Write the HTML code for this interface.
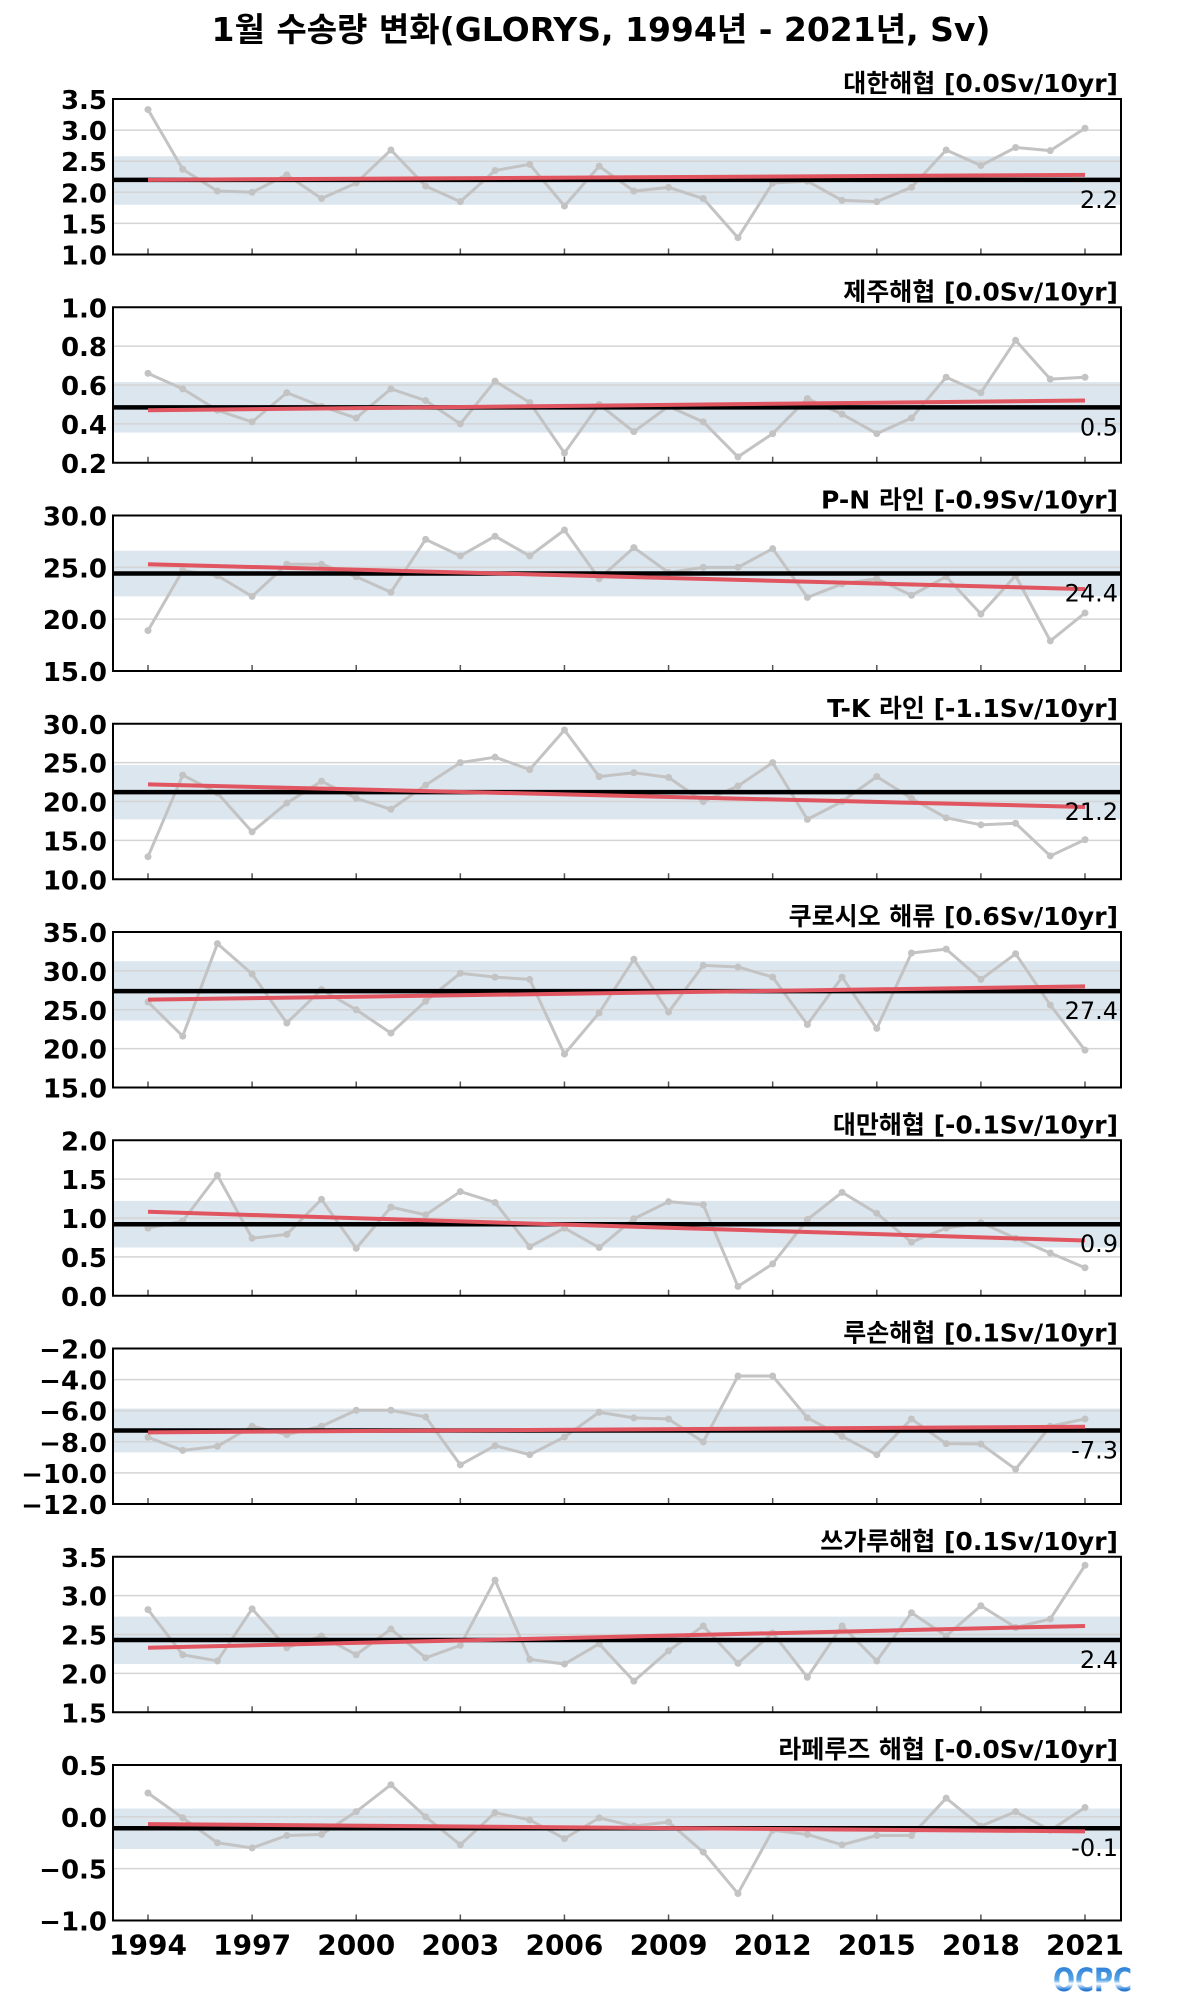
<!DOCTYPE html>
<html><head><meta charset="utf-8">
<style>
html,body{margin:0;padding:0;background:#fff;}
svg{display:block;}
text{font-family:"DejaVu Sans","Noto Sans CJK KR",sans-serif;}
</style></head>
<body>
<svg id="fig" width="1200" height="2000" viewBox="0 0 1200 2000" xmlns="http://www.w3.org/2000/svg">
<text x="601" y="41" text-anchor="middle" font-size="33" font-weight="bold">1월 수송량 변화(GLORYS, 1994년 - 2021년, Sv)</text>
<defs><linearGradient id="lg" x1="0" y1="0" x2="0" y2="1"><stop offset="0" stop-color="#1a6fd0"/><stop offset="0.5" stop-color="#5aa8e8"/><stop offset="0.6" stop-color="#ffffff"/><stop offset="0.75" stop-color="#2a7fd8"/><stop offset="1" stop-color="#0a3c9a"/></linearGradient></defs>
<text x="1053" y="1991" font-size="32" font-weight="bold" fill="url(#lg)" textLength="79" lengthAdjust="spacingAndGlyphs">OCPC</text>
</svg>
<script>
const years = [1994,1995,1996,1997,1998,1999,2000,2001,2002,2003,2004,2005,2006,2007,2008,2009,2010,2011,2012,2013,2014,2015,2016,2017,2018,2019,2020,2021];
const xTickYears = [1994,1997,2000,2003,2006,2009,2012,2015,2018,2021];
const panelTitles = ["대한해협 [0.0Sv/10yr]","제주해협 [0.0Sv/10yr]","P-N 라인 [-0.9Sv/10yr]","T-K 라인 [-1.1Sv/10yr]","쿠로시오 해류 [0.6Sv/10yr]","대만해협 [-0.1Sv/10yr]","루손해협 [0.1Sv/10yr]","쓰가루해협 [0.1Sv/10yr]","라페루즈 해협 [-0.0Sv/10yr]"];
const s1 = [3.33,2.37,2.02,2.0,2.28,1.9,2.15,2.68,2.1,1.85,2.35,2.45,1.78,2.42,2.02,2.08,1.9,1.27,2.15,2.18,1.87,1.85,2.08,2.68,2.43,2.72,2.67,3.03];
const s2 = [0.66,0.58,0.47,0.41,0.56,0.49,0.43,0.58,0.52,0.40,0.62,0.51,0.25,0.50,0.36,0.49,0.41,0.23,0.35,0.53,0.45,0.35,0.43,0.64,0.56,0.83,0.63,0.64];
const s3 = [18.9,24.7,24.2,22.2,25.3,25.3,24.1,22.6,27.7,26.1,28.0,26.1,28.6,23.9,26.9,24.5,25.0,25.0,26.8,22.1,23.4,23.9,22.3,24.1,20.5,24.2,17.9,20.6];
const s4 = [12.9,23.4,21.1,16.1,19.8,22.6,20.4,19.0,22.1,25.0,25.7,24.1,29.2,23.2,23.7,23.1,20.0,22.0,25.0,17.7,20.0,23.2,20.4,17.9,17.0,17.2,13.0,15.1];
const s5 = [26.0,21.6,33.5,29.6,23.3,27.6,25.0,22.0,26.1,29.7,29.2,28.9,19.3,24.6,31.5,24.7,30.7,30.5,29.2,23.1,29.2,22.6,32.3,32.8,28.9,32.2,25.6,19.8];
const s6 = [0.87,0.96,1.55,0.74,0.79,1.24,0.61,1.14,1.04,1.34,1.20,0.63,0.87,0.62,0.99,1.21,1.17,0.12,0.41,0.98,1.33,1.06,0.69,0.87,0.94,0.74,0.55,0.36];
const s7 = [-7.71,-8.55,-8.29,-7.0,-7.54,-7.0,-5.97,-5.97,-6.4,-9.48,-8.25,-8.83,-7.69,-6.1,-6.46,-6.53,-8.01,-3.77,-3.77,-6.46,-7.65,-8.83,-6.53,-8.12,-8.14,-9.76,-7.0,-6.53];
const s8 = [2.82,2.24,2.16,2.83,2.33,2.48,2.24,2.57,2.2,2.36,3.2,2.18,2.12,2.38,1.90,2.29,2.61,2.13,2.52,1.95,2.61,2.16,2.78,2.48,2.87,2.59,2.70,3.39];
const s9 = [0.23,-0.01,-0.25,-0.30,-0.18,-0.17,0.05,0.31,0.0,-0.27,0.04,-0.03,-0.21,-0.01,-0.09,-0.05,-0.34,-0.74,-0.13,-0.17,-0.27,-0.18,-0.18,0.18,-0.09,0.05,-0.13,0.09];
const seriesList = [s1,s2,s3,s4,s5,s6,s7,s8,s9];
const means = [2.2,0.485,24.4,21.2,27.4,0.92,-7.27,2.43,-0.11];
const meanLabels = ["2.2","0.5","24.4","21.2","27.4","0.9","-7.3","2.4","-0.1"];
const bandLow = [1.8,0.355,22.2,17.7,23.6,0.62,-8.68,2.12,-0.31];
const bandHigh = [2.58,0.615,26.6,24.7,31.25,1.22,-5.86,2.73,0.08];
const trendStart = [2.2,0.47,25.3,22.2,26.3,1.08,-7.39,2.33,-0.07];
const trendEnd = [2.28,0.52,22.9,19.3,28.0,0.71,-7.03,2.61,-0.14];
const yMins = [1.0,0.2,15,10,15,0,-12,1.5,-1.0];
const yMaxs = [3.5,1.0,30,30,35,2.0,-2,3.5,0.5];
const yTicks = [[1.0,1.5,2.0,2.5,3.0,3.5],[0.2,0.4,0.6,0.8,1.0],[15,20,25,30],[10,15,20,25,30],[15,20,25,30,35],[0,0.5,1.0,1.5,2.0],[-12,-10,-8,-6,-4,-2],[1.5,2.0,2.5,3.0,3.5],[-1.0,-0.5,0,0.5]];

const NS="http://www.w3.org/2000/svg";
const svg=document.getElementById('fig');
const L=113,R=1121,H=155.5,TOP0=99,STEP=208.25;
const X0=148,X1=1085;
function xScale(yr){return X0+(yr-years[0])*(X1-X0)/(years[years.length-1]-years[0]);}
function mk(tag,attrs,parent){const e=document.createElementNS(NS,tag);for(const k in attrs)e.setAttribute(k,attrs[k]);(parent||svg).appendChild(e);return e;}
function fmt(v){const s=Math.abs(v).toFixed(1);return (v<0?"\u2212":"")+s;}

seriesList.forEach((ser,p)=>{
  const top=TOP0+p*STEP, bot=top+H;
  const ymin=yMins[p], ymax=yMaxs[p];
  const yScale=v=>bot-(v-ymin)/(ymax-ymin)*H;
  const g=mk('g',{});
  
  
  const band=mk('rect',{x:L,y:yScale(bandHigh[p]),width:R-L,height:yScale(bandLow[p])-yScale(bandHigh[p]),fill:'#dce6ef'},g);
  
  
  yTicks[p].forEach(t=>{
    const y=yScale(t);
    const gl=mk('line',{x1:L,x2:R,y1:y,y2:y,stroke:'#d4d4d4','stroke-width':1.5},g);
    
    
    const tl=mk('text',{x:107,y:y+10,'text-anchor':'end','font-size':26,'font-weight':'bold'},g);
    tl.textContent=fmt(t);
    
    
  });
  xTickYears.forEach(yr=>{
    const x=xScale(yr);
    const tk=mk('line',{x1:x,x2:x,y1:bot,y2:bot-6,stroke:'#555','stroke-width':1.5},g);
    
    
  });
  const pts=ser.map((v,i)=>xScale(years[i])+','+yScale(v)).join(' ');
  const ln=mk('polyline',{points:pts,fill:'none',stroke:'#c3c3c3','stroke-width':3,'stroke-linejoin':'round'},g);
  
  
  ser.forEach((v,i)=>{
    const c=mk('circle',{cx:xScale(years[i]),cy:yScale(v),r:3.5,fill:'#c3c3c3'},g);
    
    
  });
  const ml=mk('line',{x1:L,x2:R,y1:yScale(means[p]),y2:yScale(means[p]),stroke:'#000','stroke-width':4.5},g);
  
  
  const tr=mk('line',{x1:xScale(years[0]),x2:xScale(years[years.length-1]),y1:yScale(trendStart[p]),y2:yScale(trendEnd[p]),stroke:'#e05560','stroke-width':4},g);
  
  
  const fr=mk('rect',{x:L,y:top,width:R-L,height:H,fill:'none',stroke:'#000','stroke-width':2},g);
  
  
  const ttl=mk('text',{x:R-3,y:top-7,'text-anchor':'end','font-size':25,'font-weight':'bold'},g);
  ttl.textContent=panelTitles[p];
  
  
  const mv=mk('text',{x:R-3,y:yScale(means[p])+28,'text-anchor':'end','font-size':24},g);
  mv.textContent=meanLabels[p];
  
  
});
const lastBot=TOP0+8*STEP+H;
xTickYears.forEach(yr=>{
  const t=mk('text',{x:xScale(yr),y:lastBot+34,'text-anchor':'middle','font-size':28,'font-weight':'bold'});
  t.textContent=yr;
  
  
});
</script>
</body></html>
